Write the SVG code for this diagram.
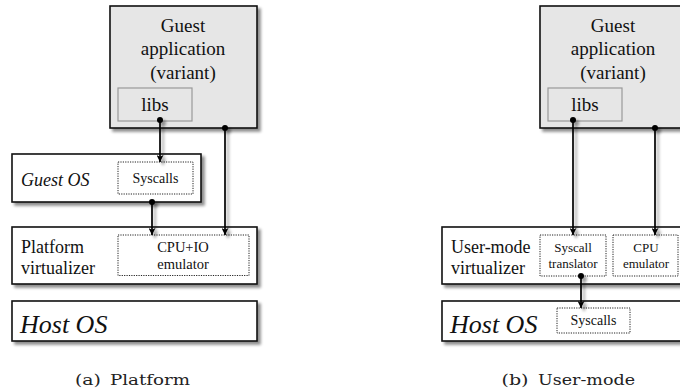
<svg xmlns="http://www.w3.org/2000/svg" width="680" height="391" viewBox="0 0 680 391">
  <defs>
    <filter id="shadow" x="-10%" y="-10%" width="130%" height="140%">
      <feGaussianBlur in="SourceAlpha" stdDeviation="1.6"/>
      <feOffset dx="3" dy="3" result="blur"/>
      <feComponentTransfer>
        <feFuncA type="linear" slope="0.45"/>
      </feComponentTransfer>
      <feMerge>
        <feMergeNode/>
        <feMergeNode in="SourceGraphic"/>
      </feMerge>
    </filter>
    <filter id="lineShadow" x="-50%" y="-10%" width="400%" height="130%">
      <feGaussianBlur in="SourceAlpha" stdDeviation="1.4"/>
      <feOffset dx="3" dy="3" result="blur"/>
      <feComponentTransfer>
        <feFuncA type="linear" slope="0.4"/>
      </feComponentTransfer>
      <feMerge>
        <feMergeNode/>
        <feMergeNode in="SourceGraphic"/>
      </feMerge>
    </filter>
    <marker id="arrow" viewBox="0 0 10 10" refX="10" refY="5" markerWidth="7" markerHeight="7" markerUnits="userSpaceOnUse" orient="auto">
      <path d="M0,0 L10,5 L0,10 L2.5,5 Z" fill="#000"/>
    </marker>
    <marker id="dot" viewBox="0 0 10 10" refX="5" refY="5" markerWidth="6" markerHeight="6" markerUnits="userSpaceOnUse">
      <circle cx="5" cy="5" r="5" fill="#000"/>
    </marker>
  </defs>
  <style>
    .box { fill: #fff; stroke: #111; stroke-width: 1.6; }
    .app { fill: #e6e6e6; stroke: #111; stroke-width: 1.6; }
    .libs { fill: #e6e6e6; stroke: #999; stroke-width: 1.2; }
    .dotted { fill: none; stroke: #222; stroke-width: 1; stroke-dasharray: 1.2 1.2; }
    .wire { fill: none; stroke: #000; stroke-width: 1.7; marker-start: url(#dot); marker-end: url(#arrow); }
    text { font-family: "Liberation Serif", "Times New Roman", serif; fill: #111; }
    .big { font-size: 19px; text-anchor: middle; }
    .lbl { font-size: 18px; }
    .os { font-size: 18px; font-style: italic; }
    .host { font-size: 26px; font-style: italic; }
    .small { font-size: 14.5px; text-anchor: middle; }
    .tiny { font-size: 13px; text-anchor: middle; }
    .cap { font-family: "DejaVu Serif", serif; font-size: 15.5px; fill: #222; }
  </style>

  <!-- (a) Platform virtualization stack -->
  <g id="a-guest-app">
    <rect class="app" x="110" y="6" width="147" height="122" filter="url(#shadow)"/>
    <text class="big" x="183" y="32">Guest</text>
    <text class="big" x="183" y="55">application</text>
    <text class="big" x="183" y="78.5">(variant)</text>
  </g>
  <g id="a-libs">
    <rect class="libs" x="118" y="88" width="74" height="33"/>
    <text class="big" x="155" y="111">libs</text>
  </g>
  <g id="a-guest-os">
    <rect class="box" x="12" y="154" width="189" height="48" filter="url(#shadow)"/>
    <text class="os" x="21" y="185.5">Guest OS</text>
  </g>
  <g id="a-syscalls">
    <rect class="dotted" x="118" y="162" width="75" height="32"/>
    <text class="small" x="155.5" y="182.5" style="font-size:14px">Syscalls</text>
  </g>
  <g id="a-platform">
    <rect class="box" x="12" y="227" width="245" height="57" filter="url(#shadow)"/>
    <text class="lbl" x="21" y="252.5">Platform</text>
    <text class="lbl" x="21" y="273.5">virtualizer</text>
  </g>
  <g id="a-cpuio">
    <rect class="dotted" x="118" y="235" width="131" height="40.5"/>
    <text class="small" x="183" y="252">CPU+IO</text>
    <text class="small" x="183" y="268.5">emulator</text>
  </g>
  <g id="a-host-os">
    <rect class="box" x="12" y="301" width="245" height="40" filter="url(#shadow)"/>
    <text class="host" x="20" y="333">Host OS</text>
  </g>
  <text class="cap" y="385"><tspan x="75" textLength="26" lengthAdjust="spacingAndGlyphs">(a)</tspan><tspan x="110" textLength="80" lengthAdjust="spacingAndGlyphs">Platform</tspan></text>

  <!-- (b) User-mode virtualization stack -->
  <g id="b-guest-app">
    <rect class="app" x="540" y="6" width="147" height="122" filter="url(#shadow)"/>
    <text class="big" x="613" y="32">Guest</text>
    <text class="big" x="613" y="55">application</text>
    <text class="big" x="613" y="78.5">(variant)</text>
  </g>
  <g id="b-libs">
    <rect class="libs" x="548" y="88" width="74" height="33"/>
    <text class="big" x="585" y="111">libs</text>
  </g>
  <g id="b-usermode">
    <rect class="box" x="442" y="227" width="245" height="57" filter="url(#shadow)"/>
    <text class="lbl" x="451" y="252.5">User-mode</text>
    <text class="lbl" x="451" y="273.5">virtualizer</text>
  </g>
  <g id="b-translator">
    <rect class="dotted" x="540" y="235" width="66" height="41"/>
    <text class="tiny" x="573" y="252">Syscall</text>
    <text class="tiny" x="573" y="268">translator</text>
  </g>
  <g id="b-cpu">
    <rect class="dotted" x="613" y="235" width="65" height="41"/>
    <text class="tiny" x="646" y="252">CPU</text>
    <text class="tiny" x="646" y="268">emulator</text>
  </g>
  <g id="b-host-os">
    <rect class="box" x="442" y="301" width="245" height="40" filter="url(#shadow)"/>
    <text class="host" x="450" y="333">Host OS</text>
  </g>
  <g id="b-syscalls">
    <rect class="dotted" x="557" y="308" width="73" height="25"/>
    <text class="small" x="593.5" y="325" style="font-size:14px">Syscalls</text>
  </g>
  <text class="cap" y="385"><tspan x="501.5" textLength="27" lengthAdjust="spacingAndGlyphs">(b)</tspan><tspan x="538" textLength="97" lengthAdjust="spacingAndGlyphs">User-mode</tspan></text>

  <!-- connectors -->
  <g id="connectors" filter="url(#lineShadow)">
    <path class="wire" d="M160,120 V162"/>
    <path class="wire" d="M225,128 V235"/>
    <path class="wire" d="M152,202 V235"/>
    <path class="wire" d="M573,120 V235"/>
    <path class="wire" d="M655,128 V235"/>
    <path class="wire" d="M581,276 V308"/>
  </g>
</svg>
